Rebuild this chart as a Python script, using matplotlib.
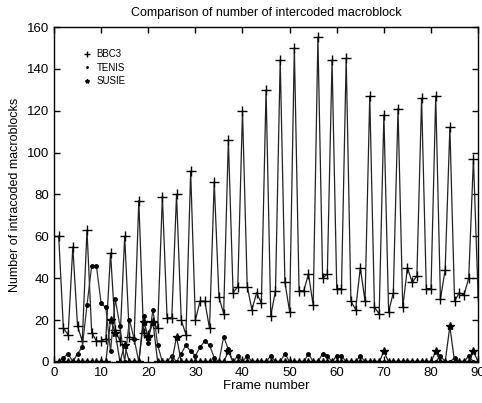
import numpy as np
import matplotlib
matplotlib.use("Agg")
import matplotlib.pyplot as plt
from matplotlib.lines import Line2D

plt.rcParams['font.family'] = ['Liberation Sans', 'DejaVu Sans']

# frame index 1..90
frames = np.arange(1, 91)

# BBC3 intracoded macroblocks per frame
bbc3 = [60, 16, 13, 55, 17, 10, 63, 14, 10, 10,
        11, 52, 15, 10, 60, 12, 11, 77, 14, 13,
        19, 16, 79, 21, 21, 80, 20, 13, 91, 20,
        29, 29, 16, 86, 31, 23, 106, 33, 36, 120,
        36, 25, 33, 28, 130, 22, 34, 144, 38, 24,
        150, 34, 34, 42, 27, 155, 40, 42, 144, 35,
        35, 145, 29, 25, 45, 29, 127, 26, 23, 118,
        24, 33, 121, 26, 45, 38, 41, 126, 35, 35,
        127, 30, 44, 112, 29, 33, 32, 40, 97, 31]

# TENIS
tenis = [0, 2, 4, 0, 4, 7, 27, 46, 46, 28,
         26, 5, 30, 17, 0, 20, 11, 0, 22, 9,
         25, 8, 0, 0, 3, 0, 4, 8, 5, 3,
         7, 10, 8, 2, 0, 12, 6, 0, 3, 0,
         3, 0, 0, 0, 0, 3, 0, 0, 4, 0,
         0, 0, 0, 4, 0, 0, 4, 3, 0, 3,
         3, 0, 0, 0, 3, 0, 0, 0, 0, 0,
         0, 0, 0, 0, 0, 0, 0, 0, 0, 0,
         0, 3, 0, 0, 2, 0, 0, 3, 0, 0]

# SUSIE
susie = [0, 0, 0, 0, 0, 0, 0, 0, 0, 0,
         0, 20, 14, 0, 8, 0, 0, 0, 19, 12,
         19, 0, 0, 0, 0, 12, 0, 0, 0, 0,
         0, 0, 0, 0, 0, 0, 5, 0, 0, 0,
         0, 0, 0, 0, 0, 0, 0, 0, 0, 0,
         0, 0, 0, 0, 0, 0, 0, 0, 0, 0,
         0, 0, 0, 0, 0, 0, 0, 0, 0, 5,
         0, 0, 0, 0, 0, 0, 0, 0, 0, 0,
         5, 0, 0, 17, 0, 0, 0, 0, 5, 0]

fig = plt.figure(figsize=(4.82, 4.03), dpi=100)
ax = fig.add_axes([0.112, 0.102, 0.88, 0.831])

ax.plot(frames, bbc3, color='#222222', lw=0.9, marker='+', ms=7, mew=1.0, mec='black')
ax.plot(frames, tenis, color='#333333', lw=0.9, marker='.', ms=5, mec='black', mfc='black')
ax.plot(frames, susie, color='#222222', lw=0.9, marker='*', ms=6, mec='black', mfc='black')

ax.set_xlim(0, 90)
ax.set_ylim(0, 160)
ax.set_xticks(range(0, 91, 10))
ax.set_yticks(range(0, 161, 20))
ax.tick_params(direction='in', top=True, right=True, labelsize=9.5, length=4, width=1)
for s in ax.spines.values():
    s.set_linewidth(1.0)

ax.set_title('Comparison of number of intercoded macroblock', fontsize=9, pad=8)
ax.set_xlabel('Frame number', fontsize=9.5, labelpad=1)
ax.set_ylabel('Number of intracoded macroblocks', fontsize=9, labelpad=4)

handles = [Line2D([], [], ls='none', marker='+', ms=4, color='black'),
           Line2D([], [], ls='none', marker='.', ms=2, color='black'),
           Line2D([], [], ls='none', marker='*', ms=3, color='black')]
ax.legend(handles, ['BBC3', 'TENIS', 'SUSIE'], loc='upper left',
          bbox_to_anchor=(0.045, 0.96), frameon=False, fontsize=7,
          handlelength=1.0, handletextpad=0.5, labelspacing=0.35)

fig.savefig('out.png', dpi=100)
